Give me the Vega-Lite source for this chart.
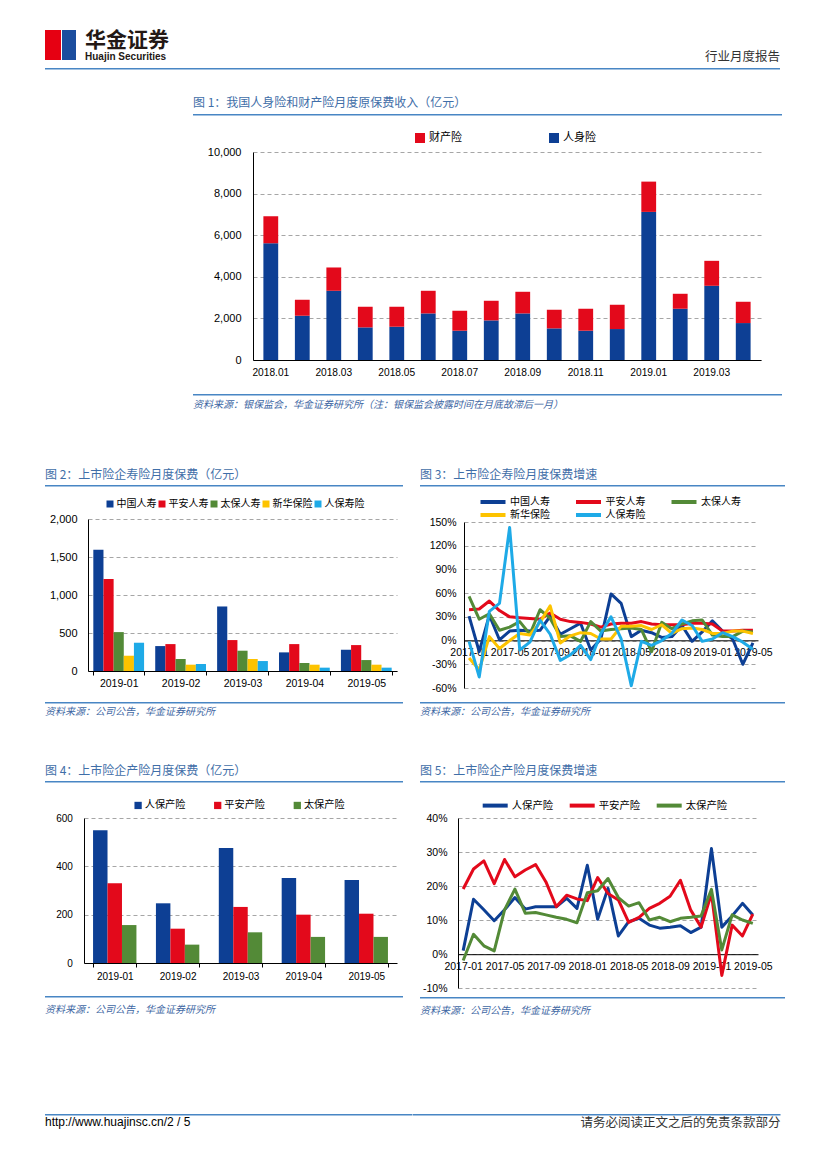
{
"$schema": "https://vega.github.io/schema/vega-lite/v6.json",
"background": "white",
"padding": {"left": 45, "top": 30, "right": 5, "bottom": 5},
"spacing": 0,
"resolve": {"scale": {"color": "independent", "xOffset": "independent", "x": "independent", "y": "independent"}, "legend": {"color": "independent"}},
"config": {
  "view": {"stroke": null},
  "font": "Liberation Sans",
  "concat": {"spacing": 0},
  "axis": {"labelFont": "Liberation Sans", "labelColor": "#000000", "domainColor": "#000000", "tickColor": "#000000", "gridColor": "#a6a6a6", "gridDash": [4, 3], "domainWidth": 1},
  "legend": {"labelFont": "Noto Sans CJK SC", "labelColor": "#000000", "padding": 0},
  "title": {"font": "Noto Sans CJK SC"}
},
"vconcat": [
  {"hconcat": [
    {"width": 16, "height": 30, "data": {"values": []}, "mark": "rect", "encoding": {}, "view": {"fill": "#e60012"}},
    {"width": 1, "height": 30, "data": {"values": []}, "mark": "rect", "encoding": {}},
    {"width": 14, "height": 30, "data": {"values": []}, "mark": "rect", "encoding": {}, "view": {"fill": "#1b4d9e"}},
    {"width": 9, "height": 30, "data": {"values": []}, "mark": "rect", "encoding": {}},
    {"width": 300, "height": 34, "data": {"values": []}, "mark": "rect", "encoding": {},
     "title": {"text": "华金证券", "subtitle": "Huajin Securities", "anchor": "start", "orient": "top", "offset": -32, "fontSize": 21, "fontWeight": "bold", "font": "Noto Sans CJK SC", "color": "#231815", "subtitleFont": "Liberation Sans", "subtitleFontSize": 10, "subtitleFontWeight": "bold", "subtitleColor": "#231815", "subtitlePadding": 1}},
    {"width": 395, "height": 34, "data": {"values": []}, "mark": "rect", "encoding": {},
     "title": {"text": "行业月度报告", "anchor": "end", "orient": "top", "offset": -33, "fontSize": 12.5, "fontWeight": "normal", "color": "#333333"}}
  ], "spacing": 0},
  {"width": 1, "height": 4, "data": {"values": []}, "mark": "rect", "encoding": {}},
  {"width": 735, "height": 1.5, "data": {"values": []}, "mark": "rect", "encoding": {}, "view": {"fill": "#4886c4"}},
  {"width": 1, "height": 27, "data": {"values": []}, "mark": "rect", "encoding": {}},
  {"hconcat": [
    {"width": 148, "height": 1.5, "data": {"values": []}, "mark": "rect", "encoding": {}},
    {"width": 589, "height": 1.5, "data": {"values": []}, "mark": "rect", "encoding": {}, "view": {"fill": "#4886c4"},
     "title": {"text": "图 1：我国人身险和财产险月度原保费收入（亿元）", "anchor": "start", "orient": "top", "offset": 4, "fontSize": 12, "fontWeight": "normal", "color": "#3f6ea8"}}
  ], "spacing": 0},
  {"width": 1, "height": 16, "data": {"values": []}, "mark": "rect", "encoding": {}},
  {"hconcat": [
    {"width": 208, "height": 240, "data": {"values": []}, "mark": "rect", "encoding": {}},
    {"width": 508, "height": 208,
     "data": {"values": [
      {"month": "2018.01", "type": "人身险", "value": 5616}, {"month": "2018.01", "type": "财产险", "value": 1296},
      {"month": "2018.02", "type": "人身险", "value": 2128}, {"month": "2018.02", "type": "财产险", "value": 768},
      {"month": "2018.03", "type": "人身险", "value": 3328}, {"month": "2018.03", "type": "财产险", "value": 1120},
      {"month": "2018.04", "type": "人身险", "value": 1568}, {"month": "2018.04", "type": "财产险", "value": 992},
      {"month": "2018.05", "type": "人身险", "value": 1600}, {"month": "2018.05", "type": "财产险", "value": 960},
      {"month": "2018.06", "type": "人身险", "value": 2240}, {"month": "2018.06", "type": "财产险", "value": 1088},
      {"month": "2018.07", "type": "人身险", "value": 1408}, {"month": "2018.07", "type": "财产险", "value": 960},
      {"month": "2018.08", "type": "人身险", "value": 1904}, {"month": "2018.08", "type": "财产险", "value": 944},
      {"month": "2018.09", "type": "人身险", "value": 2240}, {"month": "2018.09", "type": "财产险", "value": 1040},
      {"month": "2018.10", "type": "人身险", "value": 1520}, {"month": "2018.10", "type": "财产险", "value": 896},
      {"month": "2018.11", "type": "人身险", "value": 1408}, {"month": "2018.11", "type": "财产险", "value": 1056},
      {"month": "2018.12", "type": "人身险", "value": 1488}, {"month": "2018.12", "type": "财产险", "value": 1168},
      {"month": "2019.01", "type": "人身险", "value": 7120}, {"month": "2019.01", "type": "财产险", "value": 1456},
      {"month": "2019.02", "type": "人身险", "value": 2464}, {"month": "2019.02", "type": "财产险", "value": 720},
      {"month": "2019.03", "type": "人身险", "value": 3568}, {"month": "2019.03", "type": "财产险", "value": 1200},
      {"month": "2019.04", "type": "人身险", "value": 1776}, {"month": "2019.04", "type": "财产险", "value": 1024}
     ]},
     "mark": {"type": "bar"},
     "encoding": {
       "x": {"field": "month", "type": "ordinal", "title": null, "scale": {"paddingInner": 0.53, "paddingOuter": 0.33},
             "axis": {"values": ["2018.01", "2018.03", "2018.05", "2018.07", "2018.09", "2018.11", "2019.01", "2019.03"], "labelAngle": 0, "ticks": false, "labelFontSize": 10.2, "labelPadding": 7, "grid": false}},
       "y": {"field": "value", "type": "quantitative", "title": null, "stack": "zero", "scale": {"domain": [0, 10000], "nice": false},
             "axis": {"values": [0, 2000, 4000, 6000, 8000, 10000], "format": ",d", "grid": true, "ticks": false, "labelPadding": 12, "labelFontSize": 11}},
       "color": {"field": "type", "type": "nominal", "scale": {"domain": ["财产险", "人身险"], "range": ["#e3091b", "#0d3f94"]},
             "legend": {"orient": "none", "legendX": 161, "legendY": -20, "direction": "horizontal", "title": null, "symbolType": "square", "symbolSize": 100, "labelFontSize": 11, "labelOffset": 3, "columnPadding": 86}},
       "order": {"field": "type", "sort": "ascending"}
     }}
  ], "spacing": 0, "bounds": "flush", "resolve": {"scale": {"color": "independent", "x": "independent", "y": "independent"}, "legend": {"color": "independent"}}},
  {"width": 1, "height": 2, "data": {"values": []}, "mark": "rect", "encoding": {}},
  {"hconcat": [
    {"width": 148, "height": 20, "data": {"values": []}, "mark": "rect", "encoding": {}},
    {"width": 589, "height": 1.5, "data": {"values": []}, "mark": "rect", "encoding": {}, "view": {"fill": "#4886c4"},
     "title": {"text": "资料来源：银保监会，华金证券研究所（注：银保监会披露时间在月底故滞后一月）", "anchor": "start", "orient": "bottom", "offset": 4, "fontSize": 10, "fontStyle": "italic", "fontWeight": "normal", "color": "#3e67a3"}}
  ], "spacing": 0},
  {"width": 1, "height": 55, "data": {"values": []}, "mark": "rect", "encoding": {}},
  {"hconcat": [
    {"vconcat": [
      {"width": 358, "height": 1.5, "data": {"values": []}, "mark": "rect", "encoding": {}, "view": {"fill": "#4886c4"},
       "title": {"text": "图 2：上市险企寿险月度保费（亿元）", "anchor": "start", "orient": "top", "offset": 3, "fontSize": 12, "fontWeight": "normal", "color": "#3f6ea8"}},
      {"width": 1, "height": 12, "data": {"values": []}, "mark": "rect", "encoding": {}},
      {"hconcat": [
        {"width": 43, "height": 180, "data": {"values": []}, "mark": "rect", "encoding": {}},
        {"width": 309, "height": 152,
         "data": {"values": [
          {"month": "2019-01", "company": "中国人寿", "value": 1597}, {"month": "2019-01", "company": "平安人寿", "value": 1212}, {"month": "2019-01", "company": "太保人寿", "value": 512}, {"month": "2019-01", "company": "新华保险", "value": 201}, {"month": "2019-01", "company": "人保寿险", "value": 372},
          {"month": "2019-02", "company": "中国人寿", "value": 328}, {"month": "2019-02", "company": "平安人寿", "value": 354}, {"month": "2019-02", "company": "太保人寿", "value": 158}, {"month": "2019-02", "company": "新华保险", "value": 83}, {"month": "2019-02", "company": "人保寿险", "value": 92},
          {"month": "2019-03", "company": "中国人寿", "value": 849}, {"month": "2019-03", "company": "平安人寿", "value": 407}, {"month": "2019-03", "company": "太保人寿", "value": 267}, {"month": "2019-03", "company": "新华保险", "value": 158}, {"month": "2019-03", "company": "人保寿险", "value": 131},
          {"month": "2019-04", "company": "中国人寿", "value": 245}, {"month": "2019-04", "company": "平安人寿", "value": 354}, {"month": "2019-04", "company": "太保人寿", "value": 105}, {"month": "2019-04", "company": "新华保险", "value": 83}, {"month": "2019-04", "company": "人保寿险", "value": 44},
          {"month": "2019-05", "company": "中国人寿", "value": 280}, {"month": "2019-05", "company": "平安人寿", "value": 341}, {"month": "2019-05", "company": "太保人寿", "value": 144}, {"month": "2019-05", "company": "新华保险", "value": 83}, {"month": "2019-05", "company": "人保寿险", "value": 44}
         ]},
         "mark": {"type": "bar"},
         "encoding": {
           "x": {"field": "month", "type": "ordinal", "title": null, "scale": {"paddingInner": 0.18, "paddingOuter": 0.086},
                 "axis": {"labelAngle": 0, "ticks": true, "tickBand": "extent", "tickSize": 4, "labelPadding": 3, "labelFontSize": 10.5, "grid": false}},
           "xOffset": {"field": "company", "type": "nominal", "scale": {"domain": ["中国人寿", "平安人寿", "太保人寿", "新华保险", "人保寿险"], "paddingInner": 0}},
           "y": {"field": "value", "type": "quantitative", "title": null, "scale": {"domain": [0, 2000], "nice": false},
                 "axis": {"values": [0, 500, 1000, 1500, 2000], "format": ",d", "grid": true, "ticks": false, "labelPadding": 11, "labelFontSize": 11}},
           "color": {"field": "company", "type": "nominal", "scale": {"domain": ["中国人寿", "平安人寿", "太保人寿", "新华保险", "人保寿险"], "range": ["#0d3f94", "#e3091b", "#538a37", "#fdc300", "#1eaae7"]},
                 "legend": {"orient": "none", "legendX": 17, "legendY": -20, "direction": "horizontal", "title": null, "symbolType": "square", "symbolSize": 49, "labelFontSize": 10, "labelOffset": 1.5, "columnPadding": 0}}
         }}
      ], "spacing": 0, "bounds": "flush", "resolve": {"scale": {"color": "independent", "xOffset": "independent", "x": "independent", "y": "independent"}, "legend": {"color": "independent"}}},
      {"width": 1, "height": 3, "data": {"values": []}, "mark": "rect", "encoding": {}},
      {"width": 358, "height": 1.5, "data": {"values": []}, "mark": "rect", "encoding": {}, "view": {"fill": "#4886c4"},
       "title": {"text": "资料来源：公司公告，华金证券研究所", "anchor": "start", "orient": "bottom", "offset": 3, "fontSize": 10, "fontStyle": "italic", "fontWeight": "normal", "color": "#3e67a3"}}
    ], "spacing": 0, "resolve": {"scale": {"color": "independent", "xOffset": "independent", "x": "independent", "y": "independent"}, "legend": {"color": "independent"}}},
    {"width": 17, "height": 240, "data": {"values": []}, "mark": "rect", "encoding": {}},
    {"vconcat": [
      {"width": 365, "height": 1.5, "data": {"values": []}, "mark": "rect", "encoding": {}, "view": {"fill": "#4886c4"},
       "title": {"text": "图 3：上市险企寿险月度保费增速", "anchor": "start", "orient": "top", "offset": 3, "fontSize": 12, "fontWeight": "normal", "color": "#3f6ea8"}},
      {"width": 1, "height": 10, "data": {"values": []}, "mark": "rect", "encoding": {}},
      {"hconcat": [
        {"width": 44, "height": 176, "data": {"values": []}, "mark": "rect", "encoding": {}},
        {"width": 294, "height": 166,
         "data": {"values": [
          {"m": "2017-01", "s": "中国人寿", "v": 31}, {"m": "2017-02", "s": "中国人寿", "v": -14}, {"m": "2017-03", "s": "中国人寿", "v": 32}, {"m": "2017-04", "s": "中国人寿", "v": 1}, {"m": "2017-05", "s": "中国人寿", "v": 12}, {"m": "2017-06", "s": "中国人寿", "v": 13}, {"m": "2017-07", "s": "中国人寿", "v": 12}, {"m": "2017-08", "s": "中国人寿", "v": 13}, {"m": "2017-09", "s": "中国人寿", "v": 31}, {"m": "2017-10", "s": "中国人寿", "v": 8}, {"m": "2017-11", "s": "中国人寿", "v": 15}, {"m": "2017-12", "s": "中国人寿", "v": 22}, {"m": "2018-01", "s": "中国人寿", "v": -12}, {"m": "2018-02", "s": "中国人寿", "v": 2}, {"m": "2018-03", "s": "中国人寿", "v": 59}, {"m": "2018-04", "s": "中国人寿", "v": 47}, {"m": "2018-05", "s": "中国人寿", "v": 5}, {"m": "2018-06", "s": "中国人寿", "v": 13}, {"m": "2018-07", "s": "中国人寿", "v": 10}, {"m": "2018-08", "s": "中国人寿", "v": 4}, {"m": "2018-09", "s": "中国人寿", "v": 5}, {"m": "2018-10", "s": "中国人寿", "v": 19}, {"m": "2018-11", "s": "中国人寿", "v": -1}, {"m": "2018-12", "s": "中国人寿", "v": 11}, {"m": "2019-01", "s": "中国人寿", "v": 25}, {"m": "2019-02", "s": "中国人寿", "v": 12}, {"m": "2019-03", "s": "中国人寿", "v": 2}, {"m": "2019-04", "s": "中国人寿", "v": -30}, {"m": "2019-05", "s": "中国人寿", "v": -3},
          {"m": "2017-01", "s": "平安人寿", "v": 39}, {"m": "2017-02", "s": "平安人寿", "v": 40}, {"m": "2017-03", "s": "平安人寿", "v": 50}, {"m": "2017-04", "s": "平安人寿", "v": 38}, {"m": "2017-05", "s": "平安人寿", "v": 30}, {"m": "2017-06", "s": "平安人寿", "v": 29}, {"m": "2017-07", "s": "平安人寿", "v": 28}, {"m": "2017-08", "s": "平安人寿", "v": 27}, {"m": "2017-09", "s": "平安人寿", "v": 35}, {"m": "2017-10", "s": "平安人寿", "v": 27}, {"m": "2017-11", "s": "平安人寿", "v": 24}, {"m": "2017-12", "s": "平安人寿", "v": 23}, {"m": "2018-01", "s": "平安人寿", "v": 21}, {"m": "2018-02", "s": "平安人寿", "v": 17}, {"m": "2018-03", "s": "平安人寿", "v": 21}, {"m": "2018-04", "s": "平安人寿", "v": 22}, {"m": "2018-05", "s": "平安人寿", "v": 22}, {"m": "2018-06", "s": "平安人寿", "v": 24}, {"m": "2018-07", "s": "平安人寿", "v": 21}, {"m": "2018-08", "s": "平安人寿", "v": 20}, {"m": "2018-09", "s": "平安人寿", "v": 20}, {"m": "2018-10", "s": "平安人寿", "v": 20}, {"m": "2018-11", "s": "平安人寿", "v": 22}, {"m": "2018-12", "s": "平安人寿", "v": 22}, {"m": "2019-01", "s": "平安人寿", "v": 21}, {"m": "2019-02", "s": "平安人寿", "v": 12}, {"m": "2019-03", "s": "平安人寿", "v": 12}, {"m": "2019-04", "s": "平安人寿", "v": 13}, {"m": "2019-05", "s": "平安人寿", "v": 13},
          {"m": "2017-01", "s": "太保人寿", "v": 56}, {"m": "2017-02", "s": "太保人寿", "v": 27}, {"m": "2017-03", "s": "太保人寿", "v": 34}, {"m": "2017-04", "s": "太保人寿", "v": 13}, {"m": "2017-05", "s": "太保人寿", "v": 17}, {"m": "2017-06", "s": "太保人寿", "v": 24}, {"m": "2017-07", "s": "太保人寿", "v": 8}, {"m": "2017-08", "s": "太保人寿", "v": 39}, {"m": "2017-09", "s": "太保人寿", "v": 28}, {"m": "2017-10", "s": "太保人寿", "v": 5}, {"m": "2017-11", "s": "太保人寿", "v": 6}, {"m": "2017-12", "s": "太保人寿", "v": -1}, {"m": "2018-01", "s": "太保人寿", "v": 24}, {"m": "2018-02", "s": "太保人寿", "v": 12}, {"m": "2018-03", "s": "太保人寿", "v": 14}, {"m": "2018-04", "s": "太保人寿", "v": 15}, {"m": "2018-05", "s": "太保人寿", "v": 16}, {"m": "2018-06", "s": "太保人寿", "v": 14}, {"m": "2018-07", "s": "太保人寿", "v": -14}, {"m": "2018-08", "s": "太保人寿", "v": 23}, {"m": "2018-09", "s": "太保人寿", "v": 15}, {"m": "2018-10", "s": "太保人寿", "v": 21}, {"m": "2018-11", "s": "太保人寿", "v": 25}, {"m": "2018-12", "s": "太保人寿", "v": 26}, {"m": "2019-01", "s": "太保人寿", "v": 7}, {"m": "2019-02", "s": "太保人寿", "v": 5}, {"m": "2019-03", "s": "太保人寿", "v": 5}, {"m": "2019-04", "s": "太保人寿", "v": 12}, {"m": "2019-05", "s": "太保人寿", "v": 11},
          {"m": "2017-01", "s": "新华保险", "v": -22}, {"m": "2017-02", "s": "新华保险", "v": -37}, {"m": "2017-03", "s": "新华保险", "v": 5}, {"m": "2017-04", "s": "新华保险", "v": -10}, {"m": "2017-05", "s": "新华保险", "v": 0}, {"m": "2017-06", "s": "新华保险", "v": 9}, {"m": "2017-07", "s": "新华保险", "v": 7}, {"m": "2017-08", "s": "新华保险", "v": 23}, {"m": "2017-09", "s": "新华保险", "v": 44}, {"m": "2017-10", "s": "新华保险", "v": -3}, {"m": "2017-11", "s": "新华保险", "v": 6}, {"m": "2017-12", "s": "新华保险", "v": 10}, {"m": "2018-01", "s": "新华保险", "v": 9}, {"m": "2018-02", "s": "新华保险", "v": 2}, {"m": "2018-03", "s": "新华保险", "v": 2}, {"m": "2018-04", "s": "新华保险", "v": 18}, {"m": "2018-05", "s": "新华保险", "v": 18}, {"m": "2018-06", "s": "新华保险", "v": 19}, {"m": "2018-07", "s": "新华保险", "v": 14}, {"m": "2018-08", "s": "新华保险", "v": 20}, {"m": "2018-09", "s": "新华保险", "v": 9}, {"m": "2018-10", "s": "新华保险", "v": 15}, {"m": "2018-11", "s": "新华保险", "v": 16}, {"m": "2018-12", "s": "新华保险", "v": 14}, {"m": "2019-01", "s": "新华保险", "v": 9}, {"m": "2019-02", "s": "新华保险", "v": 9}, {"m": "2019-03", "s": "新华保险", "v": 12}, {"m": "2019-04", "s": "新华保险", "v": 12}, {"m": "2019-05", "s": "新华保险", "v": 9},
          {"m": "2017-01", "s": "人保寿险", "v": -1}, {"m": "2017-02", "s": "人保寿险", "v": -46}, {"m": "2017-03", "s": "人保寿险", "v": 37}, {"m": "2017-04", "s": "人保寿险", "v": 47}, {"m": "2017-05", "s": "人保寿险", "v": 143}, {"m": "2017-06", "s": "人保寿险", "v": -12}, {"m": "2017-07", "s": "人保寿险", "v": -2}, {"m": "2017-08", "s": "人保寿险", "v": 26}, {"m": "2017-09", "s": "人保寿险", "v": 8}, {"m": "2017-10", "s": "人保寿险", "v": -25}, {"m": "2017-11", "s": "人保寿险", "v": -18}, {"m": "2017-12", "s": "人保寿险", "v": -6}, {"m": "2018-01", "s": "人保寿险", "v": -24}, {"m": "2018-02", "s": "人保寿险", "v": 9}, {"m": "2018-03", "s": "人保寿险", "v": 30}, {"m": "2018-04", "s": "人保寿险", "v": 2}, {"m": "2018-05", "s": "人保寿险", "v": -57}, {"m": "2018-06", "s": "人保寿险", "v": -1}, {"m": "2018-07", "s": "人保寿险", "v": -6}, {"m": "2018-08", "s": "人保寿险", "v": 0}, {"m": "2018-09", "s": "人保寿险", "v": 9}, {"m": "2018-10", "s": "人保寿险", "v": 26}, {"m": "2018-11", "s": "人保寿险", "v": 19}, {"m": "2018-12", "s": "人保寿险", "v": -1}, {"m": "2019-01", "s": "人保寿险", "v": 2}, {"m": "2019-02", "s": "人保寿险", "v": 10}, {"m": "2019-03", "s": "人保寿险", "v": 5}, {"m": "2019-04", "s": "人保寿险", "v": -2}, {"m": "2019-05", "s": "人保寿险", "v": -11}
         ]},
         "mark": {"type": "line", "strokeWidth": 3, "strokeJoin": "round"},
         "encoding": {
           "x": {"field": "m", "type": "ordinal", "title": null, "scale": {"type": "point", "padding": 0.5},
                 "axis": {"values": ["2017-01", "2017-05", "2017-09", "2018-01", "2018-05", "2018-09", "2019-01", "2019-05"], "labelAngle": 0, "ticks": false, "offset": -47.7, "labelPadding": 7, "labelFontSize": 10.5, "grid": false}},
           "y": {"field": "v", "type": "quantitative", "title": null, "scale": {"domain": [-60, 150], "nice": false},
                 "axis": {"values": [-60, -30, 0, 30, 60, 90, 120, 150], "labelExpr": "datum.value + '%'", "grid": true, "ticks": false, "labelPadding": 8, "labelFontSize": 10.5}},
           "color": {"field": "s", "type": "nominal", "scale": {"domain": ["中国人寿", "平安人寿", "太保人寿", "新华保险", "人保寿险"], "range": ["#0d3f94", "#e3091b", "#538a37", "#fdc300", "#1eaae7"]},
                 "legend": {"orient": "none", "legendX": 24, "legendY": -25, "direction": "horizontal", "columns": 3, "title": null, "symbolType": "M-5,0H5", "symbolSize": 25, "symbolStrokeWidth": 4, "labelFontSize": 10, "labelOffset": 12, "columnPadding": 17.5, "rowPadding": -4}}
         }}
      ], "spacing": 0, "bounds": "flush", "resolve": {"scale": {"color": "independent", "x": "independent", "y": "independent"}, "legend": {"color": "independent"}}},
      {"width": 1, "height": 4, "data": {"values": []}, "mark": "rect", "encoding": {}},
      {"width": 365, "height": 1.5, "data": {"values": []}, "mark": "rect", "encoding": {}, "view": {"fill": "#4886c4"},
       "title": {"text": "资料来源：公司公告，华金证券研究所", "anchor": "start", "orient": "bottom", "offset": 3, "fontSize": 10, "fontStyle": "italic", "fontWeight": "normal", "color": "#3e67a3"}}
    ], "spacing": 0, "resolve": {"scale": {"color": "independent", "x": "independent", "y": "independent"}, "legend": {"color": "independent"}}}
  ], "spacing": 0, "resolve": {"scale": {"color": "independent", "xOffset": "independent", "x": "independent", "y": "independent"}, "legend": {"color": "independent"}}},
  {"width": 1, "height": 40, "data": {"values": []}, "mark": "rect", "encoding": {}},
  {"hconcat": [
    {"vconcat": [
      {"width": 358, "height": 1.5, "data": {"values": []}, "mark": "rect", "encoding": {}, "view": {"fill": "#4886c4"},
       "title": {"text": "图 4：上市险企产险月度保费（亿元）", "anchor": "start", "orient": "top", "offset": 3, "fontSize": 12, "fontWeight": "normal", "color": "#3f6ea8"}},
      {"width": 1, "height": 17, "data": {"values": []}, "mark": "rect", "encoding": {}},
      {"hconcat": [
        {"width": 39, "height": 170, "data": {"values": []}, "mark": "rect", "encoding": {}},
        {"width": 313, "height": 145,
         "data": {"values": [
          {"month": "2019-01", "company": "人保产险", "value": 549}, {"month": "2019-01", "company": "平安产险", "value": 330}, {"month": "2019-01", "company": "太保产险", "value": 157},
          {"month": "2019-02", "company": "人保产险", "value": 247}, {"month": "2019-02", "company": "平安产险", "value": 142}, {"month": "2019-02", "company": "太保产险", "value": 76},
          {"month": "2019-03", "company": "人保产险", "value": 476}, {"month": "2019-03", "company": "平安产险", "value": 232}, {"month": "2019-03", "company": "太保产险", "value": 127},
          {"month": "2019-04", "company": "人保产险", "value": 352}, {"month": "2019-04", "company": "平安产险", "value": 200}, {"month": "2019-04", "company": "太保产险", "value": 108},
          {"month": "2019-05", "company": "人保产险", "value": 343}, {"month": "2019-05", "company": "平安产险", "value": 204}, {"month": "2019-05", "company": "太保产险", "value": 108}
         ]},
         "mark": {"type": "bar"},
         "encoding": {
           "x": {"field": "month", "type": "ordinal", "title": null, "scale": {"paddingInner": 0.31, "paddingOuter": 0.144},
                 "axis": {"labelAngle": 0, "ticks": true, "tickBand": "extent", "tickSize": 4, "labelPadding": 4, "labelFontSize": 10, "grid": false}},
           "xOffset": {"field": "company", "type": "nominal", "scale": {"domain": ["人保产险", "平安产险", "太保产险"], "paddingInner": 0}},
           "y": {"field": "value", "type": "quantitative", "title": null, "scale": {"domain": [0, 600], "nice": false},
                 "axis": {"values": [0, 200, 400, 600], "grid": true, "ticks": false, "labelPadding": 11.6, "labelFontSize": 10}},
           "color": {"field": "company", "type": "nominal", "scale": {"domain": ["人保产险", "平安产险", "太保产险"], "range": ["#0d3f94", "#e3091b", "#538a37"]},
                 "legend": {"orient": "none", "legendX": 49, "legendY": -18, "direction": "horizontal", "title": null, "symbolType": "square", "symbolSize": 53, "labelFontSize": 10.2, "labelOffset": 1.5, "columnPadding": 26.6}}
         }}
      ], "spacing": 0, "bounds": "flush", "resolve": {"scale": {"color": "independent", "xOffset": "independent", "x": "independent", "y": "independent"}, "legend": {"color": "independent"}}},
      {"width": 1, "height": 8, "data": {"values": []}, "mark": "rect", "encoding": {}},
      {"width": 358, "height": 1.5, "data": {"values": []}, "mark": "rect", "encoding": {}, "view": {"fill": "#4886c4"},
       "title": {"text": "资料来源：公司公告，华金证券研究所", "anchor": "start", "orient": "bottom", "offset": 7, "fontSize": 10, "fontStyle": "italic", "fontWeight": "normal", "color": "#3e67a3"}}
    ], "spacing": 0, "resolve": {"scale": {"color": "independent", "xOffset": "independent", "x": "independent", "y": "independent"}, "legend": {"color": "independent"}}},
    {"width": 17, "height": 240, "data": {"values": []}, "mark": "rect", "encoding": {}},
    {"vconcat": [
      {"width": 365, "height": 1.5, "data": {"values": []}, "mark": "rect", "encoding": {}, "view": {"fill": "#4886c4"},
       "title": {"text": "图 5：上市险企产险月度保费增速", "anchor": "start", "orient": "top", "offset": 3, "fontSize": 12, "fontWeight": "normal", "color": "#3f6ea8"}},
      {"width": 1, "height": 17, "data": {"values": []}, "mark": "rect", "encoding": {}},
      {"hconcat": [
        {"width": 38, "height": 175, "data": {"values": []}, "mark": "rect", "encoding": {}},
        {"width": 300, "height": 170,
         "data": {"values": [
          {"m": "2017-01", "s": "人保产险", "v": 1}, {"m": "2017-02", "s": "人保产险", "v": 16.1}, {"m": "2017-03", "s": "人保产险", "v": 13}, {"m": "2017-04", "s": "人保产险", "v": 9.8}, {"m": "2017-05", "s": "人保产险", "v": 13}, {"m": "2017-06", "s": "人保产险", "v": 16.6}, {"m": "2017-07", "s": "人保产险", "v": 13.2}, {"m": "2017-08", "s": "人保产险", "v": 13.9}, {"m": "2017-09", "s": "人保产险", "v": 13.9}, {"m": "2017-10", "s": "人保产险", "v": 13.9}, {"m": "2017-11", "s": "人保产险", "v": 16.4}, {"m": "2017-12", "s": "人保产险", "v": 13.4}, {"m": "2018-01", "s": "人保产险", "v": 26.1}, {"m": "2018-02", "s": "人保产险", "v": 10.2}, {"m": "2018-03", "s": "人保产险", "v": 19.3}, {"m": "2018-04", "s": "人保产险", "v": 5.3}, {"m": "2018-05", "s": "人保产险", "v": 9.5}, {"m": "2018-06", "s": "人保产险", "v": 10.5}, {"m": "2018-07", "s": "人保产险", "v": 8.5}, {"m": "2018-08", "s": "人保产险", "v": 7.6}, {"m": "2018-09", "s": "人保产险", "v": 7.9}, {"m": "2018-10", "s": "人保产险", "v": 8.3}, {"m": "2018-11", "s": "人保产险", "v": 6.3}, {"m": "2018-12", "s": "人保产险", "v": 7.9}, {"m": "2019-01", "s": "人保产险", "v": 31}, {"m": "2019-02", "s": "人保产险", "v": 7.9}, {"m": "2019-03", "s": "人保产险", "v": 11.2}, {"m": "2019-04", "s": "人保产险", "v": 14.9}, {"m": "2019-05", "s": "人保产险", "v": 11.5},
          {"m": "2017-01", "s": "平安产险", "v": 19.1}, {"m": "2017-02", "s": "平安产险", "v": 25}, {"m": "2017-03", "s": "平安产险", "v": 27.4}, {"m": "2017-04", "s": "平安产险", "v": 20.7}, {"m": "2017-05", "s": "平安产险", "v": 27.8}, {"m": "2017-06", "s": "平安产险", "v": 22.7}, {"m": "2017-07", "s": "平安产险", "v": 24.7}, {"m": "2017-08", "s": "平安产险", "v": 26.3}, {"m": "2017-09", "s": "平安产险", "v": 21.2}, {"m": "2017-10", "s": "平安产险", "v": 13.9}, {"m": "2017-11", "s": "平安产险", "v": 17.3}, {"m": "2017-12", "s": "平安产险", "v": 16.2}, {"m": "2018-01", "s": "平安产险", "v": 15.7}, {"m": "2018-02", "s": "平安产险", "v": 22.5}, {"m": "2018-03", "s": "平安产险", "v": 17.8}, {"m": "2018-04", "s": "平安产险", "v": 15.9}, {"m": "2018-05", "s": "平安产险", "v": 9.3}, {"m": "2018-06", "s": "平安产险", "v": 10.8}, {"m": "2018-07", "s": "平安产险", "v": 13.4}, {"m": "2018-08", "s": "平安产险", "v": 14.9}, {"m": "2018-09", "s": "平安产险", "v": 17}, {"m": "2018-10", "s": "平安产险", "v": 21.7}, {"m": "2018-11", "s": "平安产险", "v": 12.9}, {"m": "2018-12", "s": "平安产险", "v": 7.9}, {"m": "2019-01", "s": "平安产险", "v": 17.8}, {"m": "2019-02", "s": "平安产险", "v": -6.3}, {"m": "2019-03", "s": "平安产险", "v": 8.5}, {"m": "2019-04", "s": "平安产险", "v": 5.3}, {"m": "2019-05", "s": "平安产险", "v": 11.7},
          {"m": "2017-01", "s": "太保产险", "v": -1.9}, {"m": "2017-02", "s": "太保产险", "v": 5.8}, {"m": "2017-03", "s": "太保产险", "v": 2.4}, {"m": "2017-04", "s": "太保产险", "v": 0.9}, {"m": "2017-05", "s": "太保产险", "v": 13}, {"m": "2017-06", "s": "太保产险", "v": 19.1}, {"m": "2017-07", "s": "太保产险", "v": 12}, {"m": "2017-08", "s": "太保产险", "v": 12.2}, {"m": "2017-09", "s": "太保产险", "v": 11.5}, {"m": "2017-10", "s": "太保产险", "v": 10.8}, {"m": "2017-11", "s": "太保产险", "v": 10.2}, {"m": "2017-12", "s": "太保产险", "v": 9.2}, {"m": "2018-01", "s": "太保产险", "v": 18}, {"m": "2018-02", "s": "太保产险", "v": 18.6}, {"m": "2018-03", "s": "太保产险", "v": 22.2}, {"m": "2018-04", "s": "太保产险", "v": 16.6}, {"m": "2018-05", "s": "太保产险", "v": 14.1}, {"m": "2018-06", "s": "太保产险", "v": 15.1}, {"m": "2018-07", "s": "太保产险", "v": 10}, {"m": "2018-08", "s": "太保产险", "v": 10.8}, {"m": "2018-09", "s": "太保产险", "v": 9.5}, {"m": "2018-10", "s": "太保产险", "v": 10.5}, {"m": "2018-11", "s": "太保产险", "v": 10.8}, {"m": "2018-12", "s": "太保产险", "v": 11.2}, {"m": "2019-01", "s": "太保产险", "v": 19}, {"m": "2019-02", "s": "太保产险", "v": 1.2}, {"m": "2019-03", "s": "太保产险", "v": 11.5}, {"m": "2019-04", "s": "太保产险", "v": 10}, {"m": "2019-05", "s": "太保产险", "v": 9}
         ]},
         "mark": {"type": "line", "strokeWidth": 3, "strokeJoin": "round"},
         "encoding": {
           "x": {"field": "m", "type": "ordinal", "title": null, "scale": {"type": "point", "padding": 0.5},
                 "axis": {"values": ["2017-01", "2017-05", "2017-09", "2018-01", "2018-05", "2018-09", "2019-01", "2019-05"], "labelAngle": 0, "ticks": false, "offset": -33.8, "labelPadding": 7, "labelFontSize": 10.5, "grid": false}},
           "y": {"field": "v", "type": "quantitative", "title": null, "scale": {"domain": [-10, 40], "nice": false},
                 "axis": {"values": [-10, 0, 10, 20, 30, 40], "labelExpr": "datum.value + '%'", "grid": true, "ticks": false, "labelPadding": 11, "labelFontSize": 10.5}},
           "color": {"field": "s", "type": "nominal", "scale": {"domain": ["人保产险", "平安产险", "太保产险"], "range": ["#0d3f94", "#e3091b", "#538a37"]},
                 "legend": {"orient": "none", "legendX": 32, "legendY": -18, "direction": "horizontal", "title": null, "symbolType": "M-5,0H5", "symbolSize": 25, "symbolStrokeWidth": 4, "labelFontSize": 10.4, "labelOffset": 11.3, "columnPadding": 7}}
         }}
      ], "spacing": 0, "bounds": "flush", "resolve": {"scale": {"color": "independent", "x": "independent", "y": "independent"}, "legend": {"color": "independent"}}},
      {"width": 1, "height": 3, "data": {"values": []}, "mark": "rect", "encoding": {}},
      {"width": 365, "height": 1.5, "data": {"values": []}, "mark": "rect", "encoding": {}, "view": {"fill": "#4886c4"},
       "title": {"text": "资料来源：公司公告，华金证券研究所", "anchor": "start", "orient": "bottom", "offset": 7, "fontSize": 10, "fontStyle": "italic", "fontWeight": "normal", "color": "#3e67a3"}}
    ], "spacing": 0, "resolve": {"scale": {"color": "independent", "x": "independent", "y": "independent"}, "legend": {"color": "independent"}}}
  ], "spacing": 0, "resolve": {"scale": {"color": "independent", "xOffset": "independent", "x": "independent", "y": "independent"}, "legend": {"color": "independent"}}},
  {"width": 1, "height": 93, "data": {"values": []}, "mark": "rect", "encoding": {}},
  {"hconcat": [
    {"width": 367.5, "height": 1.5, "data": {"values": []}, "mark": "rect", "encoding": {}, "view": {"fill": "#4886c4"},
     "title": {"text": "http://www.huajinsc.cn/2 / 5", "anchor": "start", "orient": "bottom", "offset": 1.5, "fontSize": 12, "font": "Liberation Sans", "fontWeight": "normal", "color": "#000000"}},
    {"width": 367.5, "height": 1.5, "data": {"values": []}, "mark": "rect", "encoding": {}, "view": {"fill": "#4886c4"},
     "title": {"text": "请务必阅读正文之后的免责条款部分", "anchor": "end", "orient": "bottom", "offset": 1.5, "fontSize": 12.5, "fontWeight": "normal", "color": "#333333"}}
  ], "spacing": 0}
]
}
